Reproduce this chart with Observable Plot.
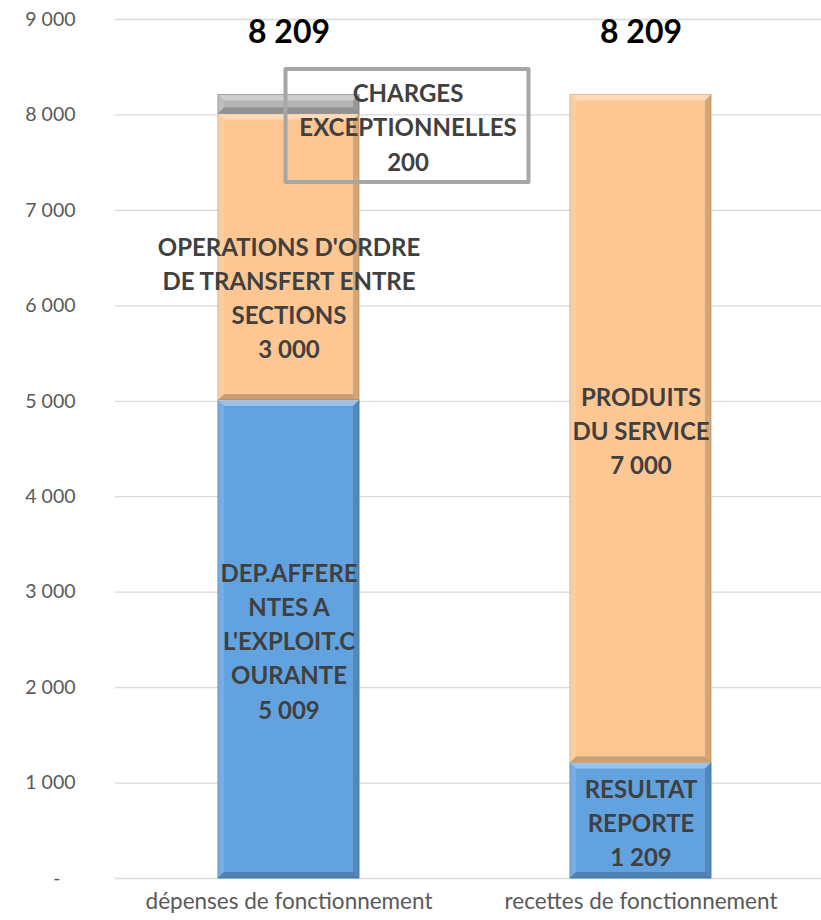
<!DOCTYPE html>
<html>
<head>
<meta charset="utf-8">
<script src="https://cdn.jsdelivr.net/npm/d3@7"></script>
<script src="https://cdn.jsdelivr.net/npm/@observablehq/plot@0.6"></script>
<style>
  html, body { margin: 0; padding: 0; background: #fff; }
  #chart svg { display: block; }
</style>
</head>
<body>
<div id="chart"></div>
<script>
// ---- data ----
const categories = ["dépenses de fonctionnement", "recettes de fonctionnement"];

const depensesLabels = [
  "DEP.AFFERE\nNTES A\nL'EXPLOIT.C\nOURANTE",
  "OPERATIONS D'ORDRE\nDE TRANSFERT ENTRE\nSECTIONS",
  "CHARGES\nEXCEPTIONNELLES"
];
const depensesValues = [5009, 3000, 200];
const depensesKinds = ["bleu", "orange", "gris"];

const recettesLabels = ["RESULTAT\nREPORTE", "PRODUITS\nDU SERVICE"];
const recettesValues = [1209, 7000];
const recettesKinds = ["bleu", "orange"];

const yTicks = [0, 1000, 2000, 3000, 4000, 5000, 6000, 7000, 8000, 9000];

// ---- build table ----
function buildRows(category, labels, values, kinds) {
  const ends = Array.from(d3.cumsum(values));
  return values.map((v, i) => ({
    category, label: labels[i], value: v, kind: kinds[i],
    y1: ends[i] - v, y2: ends[i]
  }));
}
const rows = [
  ...buildRows(categories[0], depensesLabels, depensesValues, depensesKinds),
  ...buildRows(categories[1], recettesLabels, recettesValues, recettesKinds)
];
const totals = [d3.sum(depensesValues), d3.sum(recettesValues)];
const totalRows = categories.map((c, i) => ({category: c, total: totals[i]}));

const fmt = v => d3.format(",")(v).replace(/,/g, " ");
const fills = {bleu: "#62a2de", orange: "#fdc793", gris: "#b4b4b4"};
const strokes = {bleu: "#4f8ac2", orange: "#e0ab7a", gris: "#929292"};

const mid = d => (d.y1 + d.y2) / 2;
const labelText = d => d.label + "\n" + fmt(d.value);

const movedOrdre = rows.filter(d => d.label.startsWith("OPERATIONS"));
const movedExcep = rows.filter(d => d.label.startsWith("CHARGES"));
const normal = rows.filter(d => !movedOrdre.includes(d) && !movedExcep.includes(d));

const labelStyle = {
  fontSize: 24, fontWeight: "bold", fill: "#404040", lineHeight: 1.42,
  fontFamily: "Lato"
};

const boxSymbol = {
  draw(context) { context.rect(-121.5, -56.5, 243, 113); }
};

// bevel overlay drawn on top of each rendered bar
function bevel(index, scales, values, dimensions, context, next) {
  const g = next(index, scales, values, dimensions, context);
  const ns = "http://www.w3.org/2000/svg";
  const rects = Array.from(g.querySelectorAll("rect"));
  for (const r of rects) {
    const x = +r.getAttribute("x"), y = +r.getAttribute("y");
    const w = +r.getAttribute("width"), h = +r.getAttribute("height");
    const b = Math.min(6, h / 2, w / 2);
    const faces = [
      [[x, y], [x + w, y], [x + w - b, y + b], [x + b, y + b], "#fff", 0.35],
      [[x, y], [x + b, y + b], [x + b, y + h - b], [x, y + h], "#fff", 0.12],
      [[x + w, y], [x + w, y + h], [x + w - b, y + h - b], [x + w - b, y + b], "#000", 0.16],
      [[x, y + h], [x + b, y + h - b], [x + w - b, y + h - b], [x + w, y + h], "#000", 0.2]
    ];
    for (const f of faces) {
      const p = document.createElementNS(ns, "polygon");
      p.setAttribute("points", f.slice(0, 4).map(q => q.join(",")).join(" "));
      p.setAttribute("fill", f[4]);
      p.setAttribute("fill-opacity", f[5]);
      p.setAttribute("stroke", "none");
      g.appendChild(p);
    }
  }
  return g;
}

const chart = Plot.plot({
  width: 821,
  height: 920,
  marginTop: 19,
  marginBottom: 42,
  marginLeft: 115,
  marginRight: 0,
  style: {fontFamily: "Lato", color: "#595959", background: "#fff"},
  x: {domain: categories, range: [112, 816], paddingInner: 0.6, paddingOuter: 0.3, label: null},
  y: {domain: [0, 9000], label: null},
  marks: [
    Plot.gridY(yTicks, {stroke: "#d9d9d9", strokeOpacity: 1, strokeWidth: 1.3}),
    Plot.axisY({
      ticks: yTicks, tickSize: 0, tickPadding: 40, fontSize: 19.5, fill: "#595959",
      tickFormat: d => d === 0 ? "-\u00a0\u00a0\u00a0" : fmt(d), label: null
    }),
    Plot.axisX({tickSize: 0, tickPadding: 15, fontSize: 22.5, fill: "#595959", label: null}),
    Plot.barY(rows, {
      x: "category", y1: "y1", y2: "y2",
      fill: d => fills[d.kind], stroke: d => strokes[d.kind], strokeWidth: 1,
      render: bevel
    }),
    Plot.text(normal, {x: "category", y: mid, text: labelText, ...labelStyle}),
    Plot.text(movedOrdre, {x: "category", y: mid, text: labelText, dy: 39, ...labelStyle}),
    Plot.dot(movedExcep, {
      x: "category", y: mid, dx: 118, dy: 21, symbol: boxSymbol,
      fill: "none", stroke: "#a6a6a6", strokeWidth: 4, strokeLinejoin: "round"
    }),
    Plot.text(movedExcep, {x: "category", y: mid, text: labelText, dx: 119, dy: 21, ...labelStyle}),
    Plot.text(totalRows, {
      x: "category", y: "total", text: d => fmt(d.total), dy: -62,
      fontSize: 32, fontWeight: "bold", fill: "#000", fontFamily: "Lato"
    })
  ]
});
document.getElementById("chart").appendChild(chart);
</script>
</body>
</html>
